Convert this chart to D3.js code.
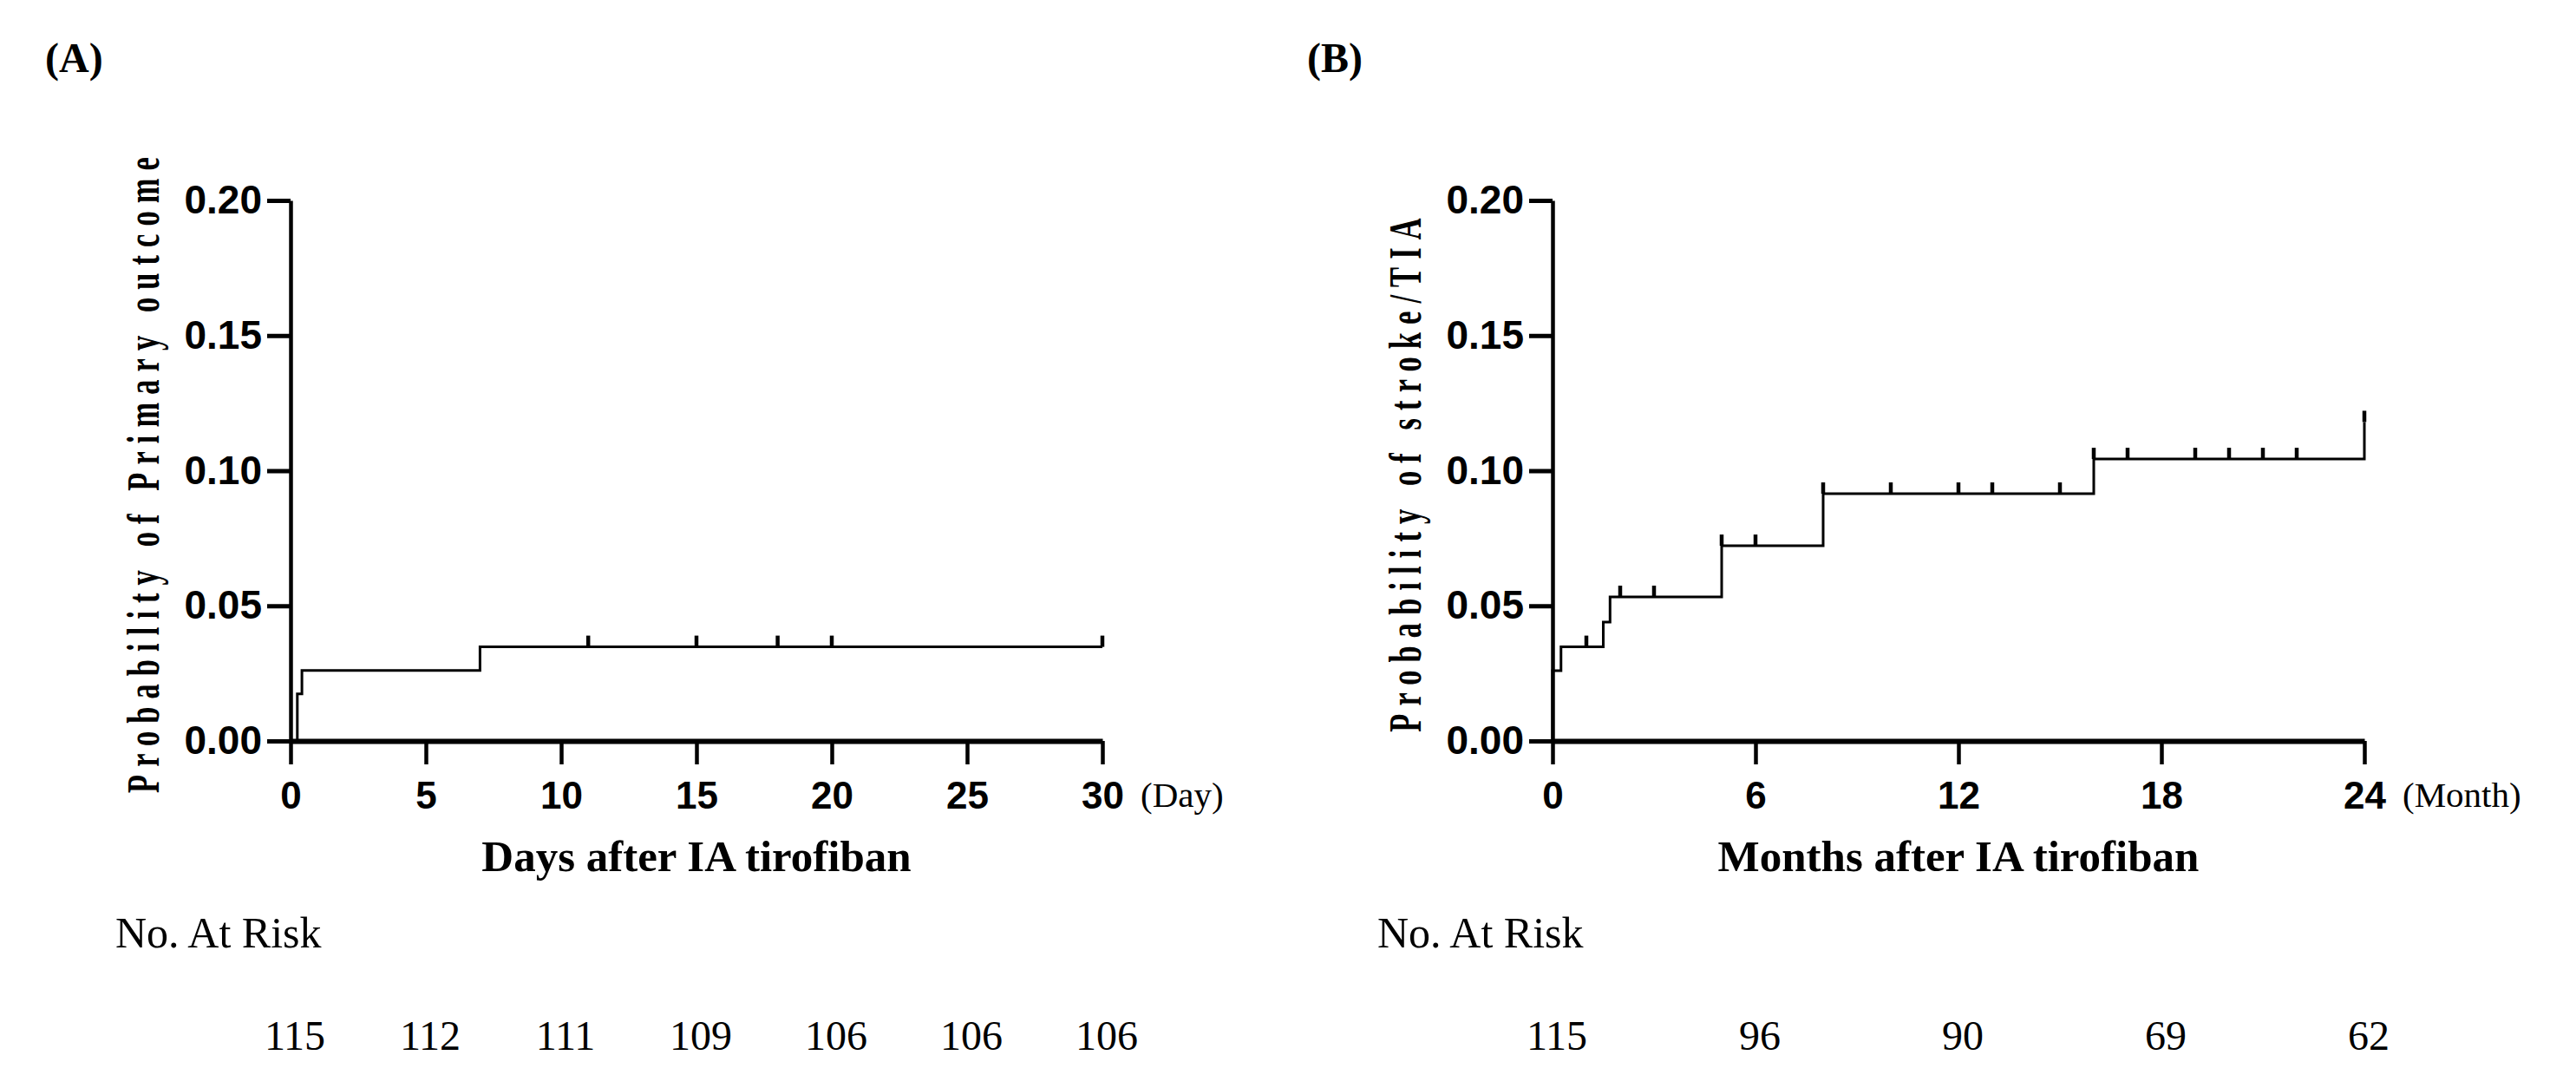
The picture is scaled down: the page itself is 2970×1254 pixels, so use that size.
<!DOCTYPE html>
<html>
<head>
  <meta charset="utf-8">
  <title>Kaplan-Meier curves after IA tirofiban</title>
  <script src="https://d3js.org/d3.v7.min.js"></script>
  <style>
    body { margin: 0; background: #fff; }
    .serif { font-family: "Times New Roman", "Liberation Serif", serif; }
  </style>
</head>
<body>
<svg id="chart"></svg>
<script>

// ---- data ----
// Panel A: primary outcome, days
const daysA = [0, 0.25, 0.42, 7, 30];
const probA = [0, 0.0174, 0.0261, 0.0348, 0.0348];
const censorDaysA = [11, 15, 18, 20, 30];
const xTicksA = [0, 5, 10, 15, 20, 25, 30];
const riskA = [115, 112, 111, 109, 106, 106, 106];

// Panel B: stroke/TIA, months
const monthsB = [0, 0, 0.25, 1.5, 1.7, 5, 8, 16, 24];
const probB = [0, 0.026, 0.0348, 0.044, 0.0533, 0.0722, 0.0915, 0.1043, 0.118];
const censorMonthsB = [1, 2, 3, 5, 6, 8, 10, 12, 13, 15, 16, 17, 19, 20, 21, 22, 24];
const xTicksB = [0, 6, 12, 18, 24];
const riskB = [115, 96, 90, 69, 62];

const yTicks = [0, 0.05, 0.10, 0.15, 0.20];

// ---- layout ----
const W = 2970, H = 1254;
const svg = d3.select("#chart").attr("width", W).attr("height", H);

const y = d3.scaleLinear().domain([0, 0.2]).range([854, 231]);

function drawPanel(opt) {
  const x = d3.scaleLinear().domain([0, opt.xMax]).range([opt.left, opt.left + 936]);
  const g = svg.append("g");

  // panel letter
  g.append("text").attr("class", "serif")
    .attr("x", opt.left - 283).attr("y", 83)
    .attr("font-size", 48).attr("font-weight", "bold")
    .text(opt.letter);

  // curve
  const pts = opt.times.map((t, i) => [t, opt.probs[i]]);
  const line = d3.line().x(d => x(d[0])).y(d => y(d[1])).curve(d3.curveStepAfter);
  g.append("path").datum(pts)
    .attr("d", line)
    .attr("fill", "none").attr("stroke", "#000").attr("stroke-width", 3);

  // censor marks
  const valueAt = t => opt.probs[d3.bisectRight(opt.times, t) - 1];
  g.selectAll(".cens").data(opt.censor).join("line")
    .attr("x1", d => x(d)).attr("x2", d => x(d))
    .attr("y1", d => y(valueAt(d))).attr("y2", d => y(valueAt(d)) - 13)
    .attr("stroke", "#000").attr("stroke-width", 4.5);

  // y axis
  const ya = g.append("g")
    .attr("transform", `translate(${opt.left},0)`)
    .call(d3.axisLeft(y).tickValues(yTicks).tickFormat(d3.format(".2f"))
      .tickSize(27).tickPadding(6).tickSizeOuter(0));
  ya.attr("font-size", 46).attr("font-family", "Arial, 'Liberation Sans', sans-serif")
    .attr("font-weight", "bold");
  ya.select(".domain").attr("stroke-width", 4.5);
  ya.selectAll(".tick line").attr("stroke-width", 5);

  // x axis
  const xa = g.append("g")
    .attr("transform", `translate(0,${y(0)})`)
    .call(d3.axisBottom(x).tickValues(opt.xTicks)
      .tickSize(27).tickPadding(20).tickSizeOuter(0));
  xa.attr("font-size", 44).attr("font-family", "Arial, 'Liberation Sans', sans-serif")
    .attr("font-weight", "bold");
  xa.select(".domain").attr("stroke-width", 6);
  xa.selectAll(".tick line").attr("stroke-width", 4.5);

  // unit after the last tick
  g.append("text").attr("class", "serif")
    .attr("x", x(opt.xMax) + 44).attr("y", 930)
    .attr("font-size", 41)
    .text(opt.unit);

  // axis titles
  g.append("text").attr("class", "serif")
    .attr("x", (x.range()[0] + x.range()[1]) / 2).attr("y", 1004)
    .attr("text-anchor", "middle")
    .attr("font-size", 51).attr("font-weight", "bold")
    .text(opt.xTitle);

  g.append("text").attr("class", "serif")
    .attr("transform", `translate(${opt.left - 152},543) rotate(-90) scale(0.65,1)`)
    .attr("text-anchor", "middle")
    .attr("font-size", 53).attr("font-weight", "bold")
    .attr("letter-spacing", 14)
    .text(opt.yTitle);

  // numbers at risk
  g.append("text").attr("class", "serif")
    .attr("x", opt.left - 202).attr("y", 1092)
    .attr("font-size", 50)
    .text("No. At Risk");

  g.selectAll(".risk").data(opt.risk).join("text")
    .attr("class", "serif")
    .attr("x", (d, i) => x(opt.xTicks[i]) + 5).attr("y", 1210)
    .attr("text-anchor", "middle")
    .attr("font-size", 48)
    .text(d => d);
}

drawPanel({
  letter: "(A)", left: 335, xMax: 30,
  times: daysA, probs: probA, censor: censorDaysA,
  xTicks: xTicksA, risk: riskA, unit: "(Day)",
  xTitle: "Days after IA tirofiban",
  yTitle: "Probability of Primary outcome"
});

drawPanel({
  letter: "(B)", left: 1790, xMax: 24,
  times: monthsB, probs: probB, censor: censorMonthsB,
  xTicks: xTicksB, risk: riskB, unit: "(Month)",
  xTitle: "Months after IA tirofiban",
  yTitle: "Probability of stroke/TIA"
});

</script>
</body>
</html>
